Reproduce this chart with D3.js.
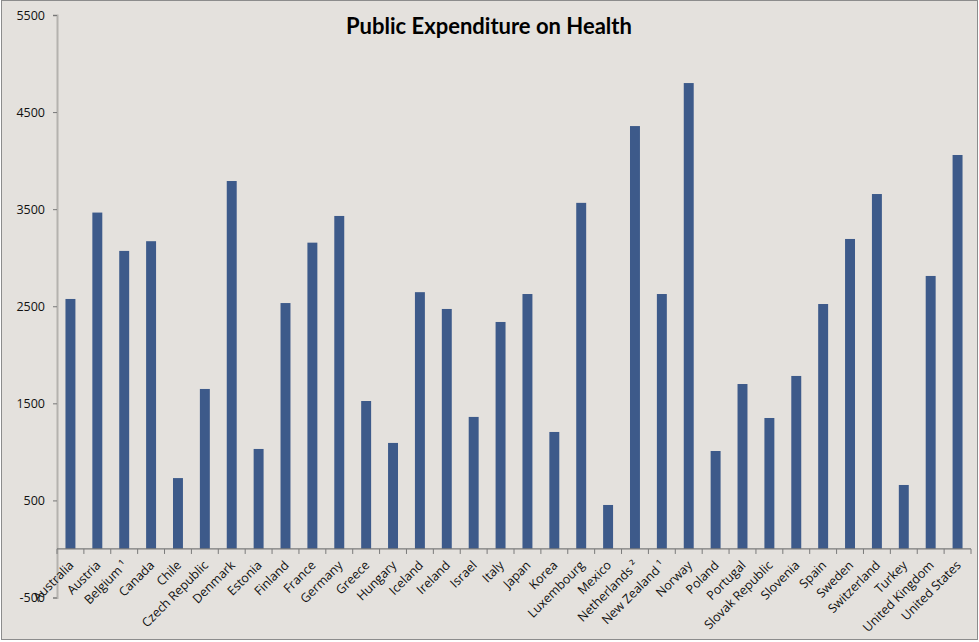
<!DOCTYPE html>
<html>
<head>
<meta charset="utf-8">
<script src="https://cdn.jsdelivr.net/npm/d3@7"></script>
<style>
  body { margin: 0; background: #fff; }
  svg { display: block; font-family: "Open Sans", sans-serif; }
</style>
</head>
<body>
<div id="chart"></div>
<script>
// categories and values (USD per capita)
var countries = ["Australia", "Austria", "Belgium \u00b9", "Canada", "Chile", "Czech Republic",
  "Denmark", "Estonia", "Finland", "France", "Germany", "Greece", "Hungary", "Iceland",
  "Ireland", "Israel", "Italy", "Japan", "Korea", "Luxembourg", "Mexico", "Netherlands \u00b2",
  "New Zealand \u00b9", "Norway", "Poland", "Portugal", "Slovak Republic", "Slovenia", "Spain",
  "Sweden", "Switzerland", "Turkey", "United Kingdom", "United States"];
var spending = [2575, 3465, 3070, 3170, 730, 1648, 3790, 1030, 2533, 3155, 3430, 1524, 1092,
  2645, 2472, 1360, 2338, 2626, 1205, 3565, 453, 4356, 2626, 4799, 1009, 1699, 1349, 1782,
  2523, 3193, 3656, 659, 2812, 4058];
var yTicks = [-500, 500, 1500, 2500, 3500, 4500, 5500];

var w = 979, h = 642;
var plotLeft = 57, plotRight = 971, plotTop = 15, plotBottom = 597.5;

var svg = d3.select("#chart").append("svg")
  .attr("width", w)
  .attr("height", h);

// chart background + frame
svg.append("rect")
  .attr("x", 1.5).attr("y", 0.5)
  .attr("width", w - 3).attr("height", h - 3)
  .attr("fill", "#e4e1dd")
  .attr("stroke", "#8c8c8c");

var x = d3.scaleBand()
  .domain(countries)
  .range([plotLeft, plotRight])
  .paddingInner(0.63)
  .paddingOuter(0.315);

var y = d3.scaleLinear()
  .domain([-500, 5500])
  .range([plotBottom, plotTop]);

// y axis (plain hyphen for the negative tick, like the original)
var yAxis = svg.append("g")
  .attr("transform", "translate(" + plotLeft + ",0)")
  .call(d3.axisLeft(y).tickValues(yTicks)
    .tickFormat(function(d) { return String(d); })
    .tickSize(4).tickPadding(8));
yAxis.select(".domain").attr("stroke", "#b4b2ae").attr("stroke-width", 2);
yAxis.selectAll(".tick line").attr("stroke", "#777");
yAxis.selectAll(".tick text")
  .attr("font-size", "12.5px")
  .attr("fill", "#111")
  .attr("font-family", "'Open Sans', sans-serif");

// bars
svg.selectAll("rect.bar")
  .data(countries)
  .enter()
  .append("rect")
  .attr("class", "bar")
  .attr("x", function(d) { return x(d); })
  .attr("width", x.bandwidth())
  .attr("y", function(d, i) { return y(spending[i]); })
  .attr("height", function(d, i) { return y(0) - y(spending[i]); })
  .attr("fill", "#3d5a8a");

// x axis at zero, ticks between categories
var step = x.step();
var xg = svg.append("g").attr("transform", "translate(0," + y(0) + ")");
xg.append("line")
  .attr("x1", plotLeft).attr("x2", plotRight)
  .attr("stroke", "#7a7a7a").attr("stroke-width", 1.2);
xg.selectAll("line.tk")
  .data(d3.range(countries.length + 1))
  .enter()
  .append("line")
  .attr("class", "tk")
  .attr("x1", function(d) { return plotLeft + d * step; })
  .attr("x2", function(d) { return plotLeft + d * step; })
  .attr("y1", 0).attr("y2", 5)
  .attr("stroke", "#7a7a7a");

xg.selectAll("text")
  .data(countries)
  .enter()
  .append("text")
  .attr("transform", function(d) {
    return "translate(" + (x(d) + x.bandwidth() / 2 + 1) + ",14) rotate(-45)";
  })
  .attr("text-anchor", "end")
  .attr("dy", "0.35em")
  .attr("font-size", "12.5px")
  .attr("fill", "#111")
  .text(function(d) { return d; });

// title
svg.append("text")
  .attr("x", 489)
  .attr("y", 34)
  .attr("text-anchor", "middle")
  .attr("font-family", "Lato, sans-serif")
  .attr("font-size", "22px")
  .attr("font-weight", "bold")
  .attr("fill", "#000")
  .text("Public Expenditure on Health");
</script>
</body>
</html>
